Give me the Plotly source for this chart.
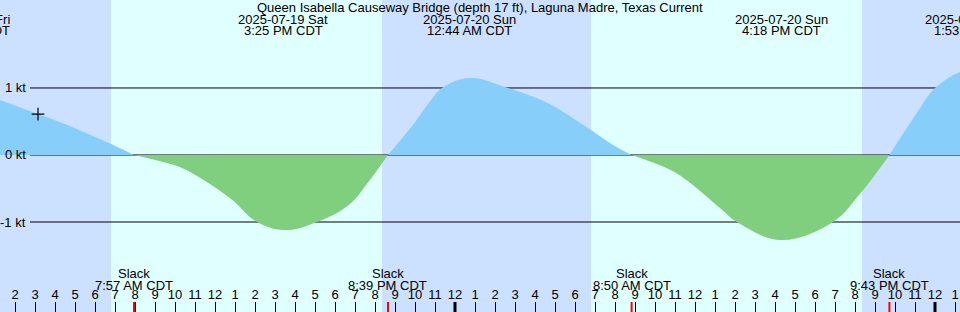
import plotly.graph_objects as go

# ---------------- data ----------------
TITLE = "Queen Isabella Causeway Bridge (depth 17 ft), Laguna Madre, Texas Current"
# hours since 2025-07-19 00:00 CDT
X_START, X_END = 1.25, 49.25
Y_MIN, Y_MAX = -2.343, 2.313

# current speed (kt), flood positive / ebb negative, split at slack (0) points
hours = [1.25, 3.15, 5.0, 6.75, 7.95,
         9.6, 10.4, 11.25, 12.9, 14.0, 15.45, 17.1, 18.75, 19.6, 20.65,
         21.9, 22.75, 23.35, 24.73, 26.65, 28.6, 30.25, 31.9, 32.83,
         34.75, 35.6, 37.25, 38.1, 40.3, 42.9, 44.25, 45.72,
         47.1, 48.0, 49.25, 49.88]
speed = [0.82, 0.61, 0.40, 0.17, 0.0,
         -0.12, -0.20, -0.34, -0.68, -0.98, -1.12, -1.0, -0.73, -0.43, 0.0,
         0.45, 0.80, 1.0, 1.15, 1.0, 0.78, 0.48, 0.15, 0.0,
         -0.22, -0.38, -0.79, -1.0, -1.27, -1.0, -0.58, 0.0,
         0.63, 1.0, 1.24, 1.28]

# max flood / ebb events
event_hours = [-0.4, 15.42, 24.73, 40.3, 49.88]
event_dates = ["2025-07-18 Fri", "2025-07-19 Sat", "2025-07-20 Sun", "2025-07-20 Sun", "2025-07-21 Mon"]
event_times = ["11:36 PM CDT", "3:25 PM CDT", "12:44 AM CDT", "4:18 PM CDT", "1:53 AM CDT"]

# slack events
slack_hours = [7.95, 20.65, 32.83, 45.72]
slack_times = ["7:57 AM CDT", "8:39 PM CDT", "8:50 AM CDT", "9:43 PM CDT"]

# night periods (sunset -> sunrise)
night_start = [X_START, 20.35, 44.35]
night_end = [6.8, 30.8, X_END]

midnights = [24, 48]
now_hour, now_speed = 3.15, 0.61

y_ticks = [1, 0, -1]
y_labels = ["1 kt", "0 kt", "-1 kt"]

tick_hours = list(range(2, 50))
tick_labels = [str((h - 1) % 12 + 1) for h in tick_hours]

# ---------------- styles ----------------
FONT = "Liberation Sans, Arial, sans-serif"
DAY = "#e0ffff"
NIGHT = "#cce0ff"
FLOOD = "#87cefa"
EBB = "#7fcf7f"
W, H = 960, 312


def frac(h):
    return (h - X_START) / (X_END - X_START)


fig = go.Figure()

# split into segments at slack points
segs = []
cur_x, cur_y = [], []
for h, v in zip(hours, speed):
    cur_x.append(h)
    cur_y.append(v)
    if v == 0 and len(cur_x) > 1:
        segs.append((cur_x, cur_y))
        cur_x, cur_y = [h], [v]
if len(cur_x) > 1:
    segs.append((cur_x, cur_y))

for sx, sy in segs:
    pos = sum(sy) > 0
    fig.add_trace(go.Scatter(
        x=sx, y=sy, mode="lines", line=dict(shape="spline", smoothing=1.1, width=0,
                                            color=FLOOD if pos else EBB),
        fill="tozeroy", fillcolor=FLOOD if pos else EBB, hoverinfo="skip", showlegend=False))

# "now" marker
fig.add_trace(go.Scatter(x=[now_hour], y=[now_speed], mode="markers",
                         marker=dict(symbol="cross-thin", size=9, line=dict(width=1.2, color="black")),
                         hoverinfo="skip", showlegend=False))

shapes = []
for s, e in zip(night_start, night_end):
    shapes.append(dict(type="rect", xref="x", yref="paper", x0=s, x1=e, y0=0, y1=1,
                       fillcolor=NIGHT, line=dict(width=0), layer="below"))
for yv in y_ticks:
    shapes.append(dict(type="line", xref="paper", yref="y", x0=30 / W, x1=1, y0=yv, y1=yv,
                       line=dict(color="black", width=1), layer="below"))
for m in midnights:
    shapes.append(dict(type="line", xref="x", yref="paper", x0=m, x1=m, y0=0, y1=10 / H,
                       line=dict(color="black", width=3), layer="above"))
for s in slack_hours:
    shapes.append(dict(type="line", xref="x", yref="paper", x0=s, x1=s, y0=0, y1=10 / H,
                       line=dict(color="red", width=2), layer="above"))

ann = []
ann.append(dict(text=TITLE, xref="paper", yref="paper", x=0.5, y=1 - 7 / H,
                xanchor="center", yanchor="middle", showarrow=False))
for h, d, t in zip(event_hours, event_dates, event_times):
    ann.append(dict(text=d, xref="paper", yref="paper", x=frac(h), y=1 - 19 / H,
                    xanchor="center", yanchor="middle", showarrow=False))
    ann.append(dict(text=t, xref="paper", yref="paper", x=frac(h), y=1 - 31 / H,
                    xanchor="center", yanchor="middle", showarrow=False))
for h, t in zip(slack_hours, slack_times):
    ann.append(dict(text="Slack", xref="paper", yref="paper", x=frac(h), y=1 - 273 / H,
                    xanchor="center", yanchor="middle", showarrow=False))
    ann.append(dict(text=t, xref="paper", yref="paper", x=frac(h), y=1 - 285 / H,
                    xanchor="center", yanchor="middle", showarrow=False))
for yv, lab in zip(y_ticks, y_labels):
    ann.append(dict(text=lab, xref="paper", yref="y", x=28 / W, y=yv,
                    xanchor="right", yanchor="middle", showarrow=False))

fig.update_layout(
    width=W, height=H, margin=dict(l=0, r=0, t=0, b=0, pad=0),
    paper_bgcolor=DAY, plot_bgcolor=DAY,
    font=dict(family=FONT, size=13, color="black"),
    shapes=shapes, annotations=ann, showlegend=False,
    xaxis=dict(range=[X_START, X_END], tickmode="array", tickvals=tick_hours, ticktext=tick_labels,
               ticks="inside", ticklen=10, tickwidth=1, tickcolor="black",
               ticklabelposition="inside", showgrid=False, zeroline=False, showline=False,
               tickfont=dict(size=13, color="black"), fixedrange=True),
    yaxis=dict(range=[Y_MIN, Y_MAX], showticklabels=False, showgrid=False, zeroline=False,
               showline=False, ticks="", fixedrange=True),
)

fig.write_html("out.html", config={"displayModeBar": False})
